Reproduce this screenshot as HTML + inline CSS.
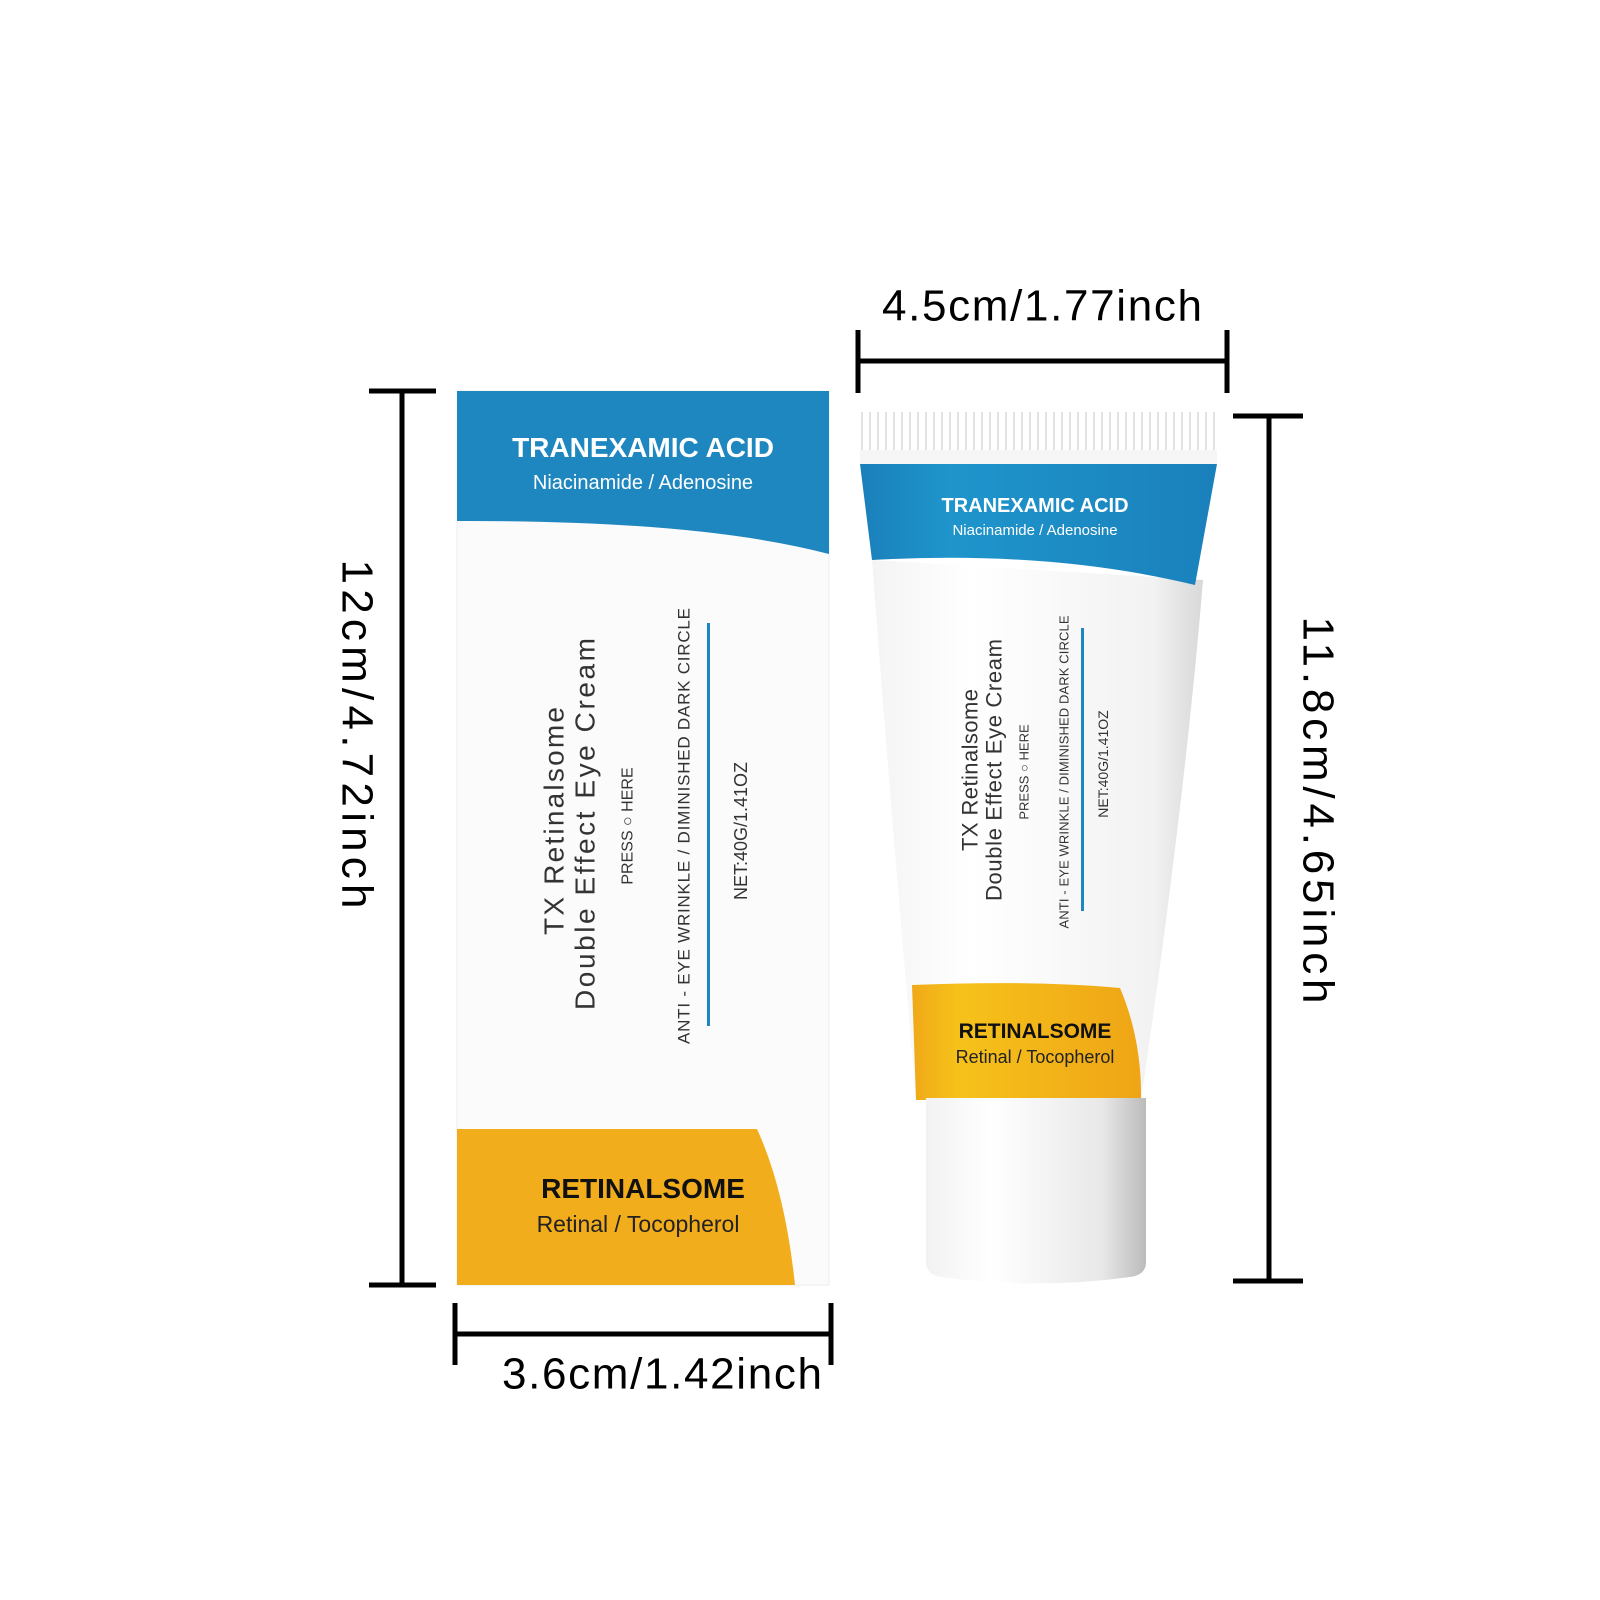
<!DOCTYPE html>
<html><head><meta charset="utf-8"><style>html,body{margin:0;padding:0;background:#fff}svg{display:block}</style></head>
<body>
<svg width="1600" height="1600" viewBox="0 0 1600 1600" xmlns="http://www.w3.org/2000/svg" font-family="Liberation Sans, sans-serif">
<defs>
<linearGradient id="tb" x1="0" x2="1"><stop offset="0" stop-color="#f4f4f4"/><stop offset="0.3" stop-color="#fff"/><stop offset="0.85" stop-color="#f2f2f2"/><stop offset="1" stop-color="#d8d8d8"/></linearGradient>
<linearGradient id="cap" x1="0" x2="1"><stop offset="0" stop-color="#f2f2f2"/><stop offset="0.3" stop-color="#fff"/><stop offset="0.8" stop-color="#e8e8e8"/><stop offset="1" stop-color="#bbb"/></linearGradient>
<linearGradient id="yb" x1="0" x2="1"><stop offset="0" stop-color="#f0a818"/><stop offset="0.2" stop-color="#f6c21a"/><stop offset="1" stop-color="#efa516"/></linearGradient>
<linearGradient id="bb" x1="0" x2="1"><stop offset="0" stop-color="#1a7fba"/><stop offset="0.25" stop-color="#1f95cc"/><stop offset="1" stop-color="#1a80bb"/></linearGradient>
<pattern id="rib" width="8" height="50" patternUnits="userSpaceOnUse"><rect width="8" height="50" fill="#fff"/><rect x="5" width="2" height="50" fill="#e2e2e2"/></pattern>
</defs>

<!-- BOX -->
<rect x="457" y="391" width="372" height="894" fill="#fbfbfb" stroke="#eee"/>
<path d="M457 391 H829 V554 Q700 520 457 521 Z" fill="#1f87c0"/>
<path d="M457 1129 H757 Q785 1190 795 1285 H457 Z" fill="#f2ad1c"/>
<text x="643" y="457" fill="#fff" font-size="28" font-weight="bold" text-anchor="middle">TRANEXAMIC ACID</text>
<text x="643" y="489" fill="#fff" font-size="20" text-anchor="middle">Niacinamide / Adenosine</text>
<text x="643" y="1198" fill="#111" font-size="28" font-weight="bold" text-anchor="middle">RETINALSOME</text>
<text x="638" y="1232" fill="#222" font-size="23" text-anchor="middle">Retinal / Tocopherol</text>
<g fill="#333" text-anchor="middle" dominant-baseline="central">
<text transform="translate(554,821) rotate(-90)" font-size="28" textLength="228">TX Retinalsome</text>
<text transform="translate(585,824) rotate(-90)" font-size="28" textLength="372">Double Effect Eye Cream</text>
<text transform="translate(628,826) rotate(-90)" font-size="16">PRESS ○ HERE</text>
<text transform="translate(684,826) rotate(-90)" font-size="17" textLength="436">ANTI - EYE WRINKLE / DIMINISHED DARK CIRCLE</text>
<text transform="translate(741,831) rotate(-90)" font-size="18">NET:40G/1.41OZ</text>
</g>
<rect x="707" y="623" width="3" height="403" fill="#1f87c0"/>

<!-- TUBE -->
<path d="M872 560 L1203 580 Q1185 800 1141 1100 L916 1100 Q890 800 872 560 Z" fill="url(#tb)"/>
<path d="M860 464 H1217 L1195 585 Q1050 550 872 560 Z" fill="url(#bb)"/>
<path d="M912 985 Q1030 980 1120 988 Q1142 1040 1141 1100 L916 1100 Q914 1040 912 985 Z" fill="url(#yb)"/>
<rect x="860" y="412" width="357" height="42" fill="url(#rib)"/>
<rect x="860" y="450" width="357" height="14" fill="#f6f6f6"/>
<path d="M926 1098 H1146 V1262 Q1146 1275 1130 1277 Q1036 1290 942 1277 Q926 1275 926 1262 Z" fill="url(#cap)"/>
<text x="1035" y="512" fill="#fff" font-size="20" font-weight="bold" text-anchor="middle">TRANEXAMIC ACID</text>
<text x="1035" y="535" fill="#fff" font-size="15" text-anchor="middle">Niacinamide / Adenosine</text>
<text x="1035" y="1038" fill="#111" font-size="21" font-weight="bold" text-anchor="middle">RETINALSOME</text>
<text x="1035" y="1063" fill="#222" font-size="18" text-anchor="middle">Retinal / Tocopherol</text>
<g fill="#333" text-anchor="middle" dominant-baseline="central">
<text transform="translate(970,770) rotate(-90)" font-size="22" textLength="162">TX Retinalsome</text>
<text transform="translate(994,770) rotate(-90)" font-size="22" textLength="262">Double Effect Eye Cream</text>
<text transform="translate(1024,772) rotate(-90)" font-size="13">PRESS ○ HERE</text>
<text transform="translate(1064,772) rotate(-90)" font-size="13" textLength="313">ANTI - EYE WRINKLE / DIMINISHED DARK CIRCLE</text>
<text transform="translate(1103,764) rotate(-90)" font-size="14">NET:40G/1.41OZ</text>
</g>
<rect x="1081" y="628" width="3" height="283" fill="#1f87c0"/>

<!-- DIMENSIONS -->
<g stroke="#000" stroke-width="5" fill="none">
<line x1="402" y1="391" x2="402" y2="1285"/><line x1="369" y1="391" x2="436" y2="391"/><line x1="369" y1="1285" x2="436" y2="1285"/>
<line x1="455" y1="1334" x2="831" y2="1334"/><line x1="455" y1="1303" x2="455" y2="1365"/><line x1="831" y1="1303" x2="831" y2="1365"/>
<line x1="858" y1="361" x2="1227" y2="361"/><line x1="858" y1="330" x2="858" y2="393"/><line x1="1227" y1="330" x2="1227" y2="393"/>
<line x1="1269" y1="416" x2="1269" y2="1281"/><line x1="1233" y1="416" x2="1303" y2="416"/><line x1="1233" y1="1281" x2="1303" y2="1281"/>
</g>
<g fill="#000" font-size="44" text-anchor="middle" dominant-baseline="central">
<text transform="translate(357,734) rotate(90)" textLength="349">12cm/4.72inch</text>
<text transform="translate(1318,810) rotate(90)" textLength="387">11.8cm/4.65inch</text>
<text x="1042" y="306" textLength="320">4.5cm/1.77inch</text>
<text x="662" y="1374" textLength="320">3.6cm/1.42inch</text>
</g>
</svg>
</body></html>
